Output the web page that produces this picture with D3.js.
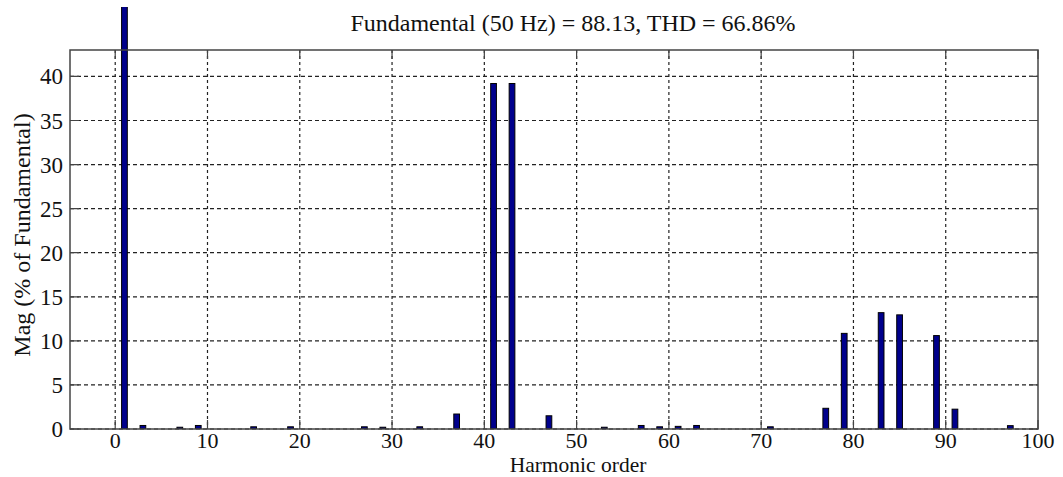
<!DOCTYPE html>
<html>
<head>
<meta charset="utf-8">
<script src="https://cdn.jsdelivr.net/npm/d3@7"></script>
<style>
  body { margin: 0; background: #fff; }
  text { font-family: "Liberation Serif", "Times New Roman", serif; fill: #111; }
</style>
</head>
<body>
<svg id="chart" width="1063" height="477"></svg>
<script>
// harmonic spectrum (% of fundamental)
const harmonics = d3.range(0, 101)
const peakOrders = [1, 3, 7, 9, 15, 19, 27, 29, 33, 37, 41, 43, 47, 53, 57, 59, 61, 63, 71, 77, 79, 83, 85, 89, 91, 97]
const peakValues = [100, 0.4, 0.2, 0.4, 0.25, 0.25, 0.25, 0.2, 0.25, 1.7, 39.2, 39.2, 1.5, 0.2, 0.4, 0.25, 0.3, 0.4, 0.25, 2.35, 10.85, 13.2, 12.95, 10.6, 2.25, 0.38]
const xTicks = [0, 10, 20, 30, 40, 50, 60, 70, 80, 90, 100]
const yTicks = [0, 5, 10, 15, 20, 25, 30, 35, 40]
const title = 'Fundamental (50 Hz) = 88.13, THD = 66.86%'

const mags = harmonics.map(h => {
  const i = peakOrders.indexOf(h)
  return { h, v: i >= 0 ? peakValues[i] : 0 }
})

const svg = d3.select('#chart')
const margin = { top: 50, right: 25, bottom: 48, left: 70 }
const width = 1063 - margin.left - margin.right
const height = 477 - margin.top - margin.bottom

const x = d3.scaleLinear().domain([-4.9, 100]).range([0, width])
const y = d3.scaleLinear().domain([0, 43]).range([height, 0])

const g = svg.append('g').attr('transform', `translate(${margin.left},${margin.top})`)

// grid
g.append('g').selectAll('line').data(xTicks.slice(0, -1)).join('line')
  .attr('x1', d => x(d)).attr('x2', d => x(d))
  .attr('y1', 0).attr('y2', height)
  .attr('stroke', '#222').attr('stroke-width', 1.2).attr('stroke-dasharray', '3,3')
g.append('g').selectAll('line').data(yTicks).join('line')
  .attr('x1', 0).attr('x2', width)
  .attr('y1', d => y(d)).attr('y2', d => y(d))
  .attr('stroke', '#222').attr('stroke-width', 1.2).attr('stroke-dasharray', '4,3')

// bars - the fundamental runs past the box, cut at the figure top
svg.append('clipPath').attr('id', 'clip')
  .append('rect').attr('x', -margin.left).attr('y', 7 - margin.top)
  .attr('width', 1063).attr('height', height + margin.top - 7)

const bw = 0.62
g.append('g').attr('clip-path', 'url(#clip)')
  .selectAll('rect').data(mags).join('rect')
  .attr('x', d => x(d.h - bw / 2))
  .attr('width', x(bw) - x(0))
  .attr('y', d => y(d.v))
  .attr('height', d => y(0) - y(d.v))
  .attr('fill', '#00008c')
  .attr('stroke', '#000')
  .attr('stroke-width', 1)

// box + inward ticks
const tl = 9
const axisCol = '#444'
g.append('rect').attr('width', width).attr('height', height)
  .attr('fill', 'none').attr('stroke', axisCol).attr('stroke-width', 1.5)
g.append('g').selectAll('path').data(xTicks).join('path')
  .attr('d', d => `M${x(d)},${height}V${height - tl}M${x(d)},0V${tl}`)
  .attr('stroke', axisCol).attr('stroke-width', 1.2)
g.append('g').selectAll('path').data(yTicks).join('path')
  .attr('d', d => `M0,${y(d)}H${tl}M${width},${y(d)}H${width - tl}`)
  .attr('stroke', axisCol).attr('stroke-width', 1.2)

// tick labels
g.append('g').selectAll('text').data(xTicks).join('text')
  .attr('x', d => x(d)).attr('y', height + 19)
  .attr('text-anchor', 'middle').attr('font-size', 22)
  .text(d => d)
g.append('g').selectAll('text').data(yTicks).join('text')
  .attr('x', -7).attr('y', d => y(d)).attr('dy', '0.35em')
  .attr('text-anchor', 'end').attr('font-size', 23)
  .text(d => d)

// labels
svg.append('text').attr('x', 578).attr('y', 472)
  .attr('text-anchor', 'middle').attr('font-size', 21.5).text('Harmonic order')
svg.append('text').attr('transform', 'translate(30,235) rotate(-90)')
  .attr('text-anchor', 'middle').attr('font-size', 24).text('Mag (% of Fundamental)')
svg.append('text').attr('x', 573).attr('y', 31)
  .attr('text-anchor', 'middle').attr('font-size', 24).text(title)
</script>
</body>
</html>
